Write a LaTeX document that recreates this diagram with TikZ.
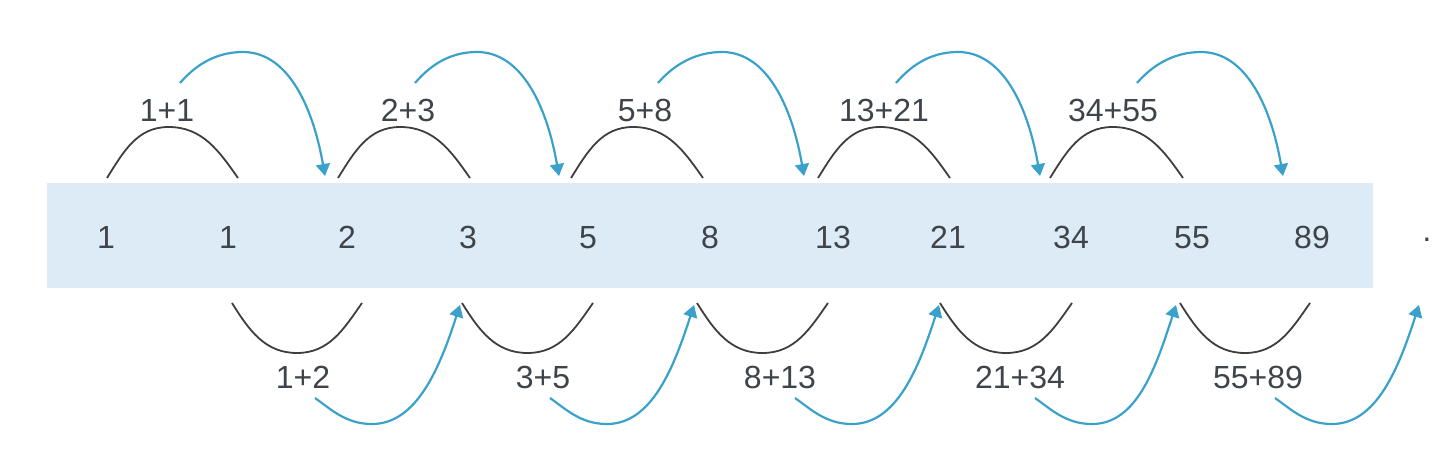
\documentclass[tikz,border=0pt]{standalone}
\usepackage{fontspec}
\setmainfont{Liberation Sans}
\usetikzlibrary{arrows.meta}
\definecolor{bandblue}{HTML}{DCEBF5}
\definecolor{arrowblue}{HTML}{3AA1CB}
\definecolor{arcgray}{HTML}{3E3E3E}
\definecolor{txtgray}{HTML}{3F444A}
\tikzset{
  num/.style={anchor=base, inner sep=0pt, text=txtgray, font=\fontsize{32}{38}\selectfont},
  lab/.style={anchor=center, inner sep=0pt, text=txtgray, font=\fontsize{32}{38}\selectfont},
  blackarc/.style={draw=arcgray, line width=1.8pt},
  bluearrow/.style={draw=arrowblue, line width=2.2pt, -{Triangle[length=12pt,width=14pt]}},
}
\begin{document}
\begin{tikzpicture}[x=1pt,y=1pt]
\useasboundingbox (0,0) rectangle (1452,-466);
% band
\fill[bandblue] (47,-183) rectangle (1373,-288);
% numbers
\foreach \i/\x/\t in {0/106/1,1/228/1,2/347/2,3/468/3,4/588/5,5/710/8,6/833/13,7/948/21,8/1071/34,9/1192/55,10/1312/89}{
  \node[num] (n\i) at (\x,-248.5) {\t};
}
\node[num] (nd) at (1427,-248.5) {·};
% top groups
\foreach \k/\a/\b/\lx/\bs/\tip/\t in {0/107/238/167/180/325/1+1,1/338/470/408/415/559/2+3,2/571/703/645/658/804/5+8,3/818/950/884/896/1040/13+21,4/1050/1183/1113/1137/1283/34+55}{
  \node[lab] (ta\k) at (\lx,-110) {\t};
  \coordinate (tas\k) at (\a,-178);
  \coordinate (tae\k) at (\b,-178);
  \coordinate (tap\k) at ({(\a+\b)/2-4},-127);
  \coordinate (tbs\k) at (\bs,-83);
  \coordinate (tbp\k) at ({\tip-82},-52);
  \coordinate (tbt\k) at (\tip,-176);
  \draw[blackarc] (tas\k) to[out=58,in=180] (tap\k) to[out=0,in=125] (tae\k);
  \draw[bluearrow] (tbs\k) .. controls +(13,15) and +(-30,0) .. (tbp\k)
     .. controls +(45,0) and +(-12,69) .. (tbt\k);
}
% bottom groups
\foreach \k/\a/\b/\lx/\bs/\tip/\t in {0/232/362/303/315/460/1+2,1/462/593/543/550/694/3+5,2/697/828/780/795/939/8+13,3/940/1072/1020/1035/1176/21+34,4/1180/1310/1258/1275/1419/55+89}{
  \node[lab] (ba\k) at (\lx,-377) {\t};
  \coordinate (bas\k) at (\a,-303);
  \coordinate (bae\k) at (\b,-303);
  \coordinate (bap\k) at ({(\a+\b)/2},-353);
  \coordinate (bbs\k) at (\bs,-398);
  \coordinate (bbp\k) at ({\bs+57},-424);
  \coordinate (bbt\k) at (\tip,-305);
  \draw[blackarc] (bas\k) to[out=-58,in=180] (bap\k) to[out=0,in=-125] (bae\k);
  \draw[bluearrow] (bbs\k) .. controls +(18,-13) and +(-25,0) .. (bbp\k)
     .. controls +(45,0) and +(-20,-62) .. (bbt\k);
}
\end{tikzpicture}
\end{document}
